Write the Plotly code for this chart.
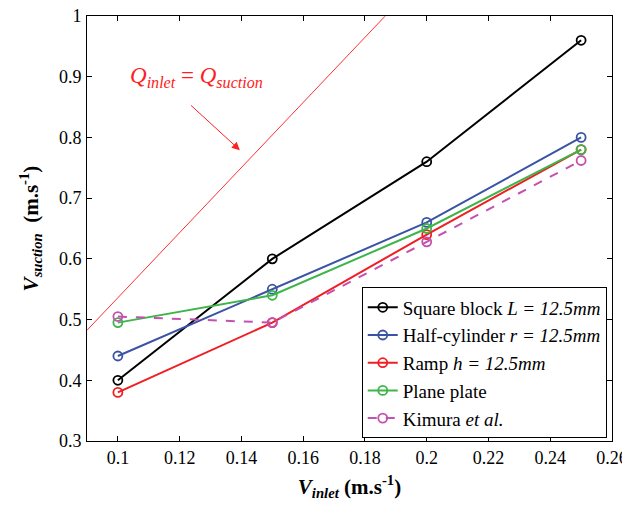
import plotly.graph_objects as go

v_inlet = [0.10, 0.15, 0.20, 0.25]
square_block = [0.400, 0.600, 0.760, 0.960]
half_cylinder = [0.440, 0.550, 0.660, 0.800]
ramp = [0.380, 0.495, 0.640, 0.780]
plane_plate = [0.495, 0.540, 0.650, 0.780]
kimura = [0.505, 0.495, 0.628, 0.762]

q_line_x = [0.09, 0.1865]
q_slope = 5.36
q_line_y = [q_slope * x for x in q_line_x]

x_ticks = [0.1, 0.12, 0.14, 0.16, 0.18, 0.2, 0.22, 0.24, 0.26]
y_ticks = [0.3, 0.4, 0.5, 0.6, 0.7, 0.8, 0.9, 1.0]

FONT = '"Liberation Serif", "Times New Roman", Times, serif'

series = [
    ("Square block <i>L = 12.5mm</i>", square_block, "#000000", "solid"),
    ("Half-cylinder <i>r = 12.5mm</i>", half_cylinder, "#3A53A4", "solid"),
    ("Ramp <i>h = 12.5mm</i>", ramp, "#F01E23", "solid"),
    ("Plane plate", plane_plate, "#3DB54A", "solid"),
    ("Kimura <i>et al.</i>", kimura, "#C451B0", "dash"),
]

fig = go.Figure()
fig.add_trace(go.Scatter(x=q_line_x, y=q_line_y, mode="lines",
                         line=dict(color="#FF3030", width=1), showlegend=False,
                         hoverinfo="skip", cliponaxis=True))
for name, ys, col, dash in series:
    fig.add_trace(go.Scatter(
        x=v_inlet, y=ys, mode="lines+markers", name=name,
        line=dict(color=col, width=2, dash=dash),
        marker=dict(symbol="circle-open", size=9, color=col, line=dict(width=1.8, color=col)),
    ))

fig.add_annotation(x=0.1256, y=0.899, xref="x", yref="y",
                   text="<i>Q</i><sub><i>inlet</i></sub> = <i>Q</i><sub><i>suction</i></sub>",
                   showarrow=False, font=dict(family=FONT, size=23, color="#FF2020"))
fig.add_annotation(x=0.1395, y=0.779, ax=0.1232, ay=0.855, xref="x", yref="y",
                   axref="x", ayref="y", text="", showarrow=True,
                   arrowhead=2, arrowsize=1.6, arrowwidth=1, arrowcolor="#FF2020")

axis_common = dict(showgrid=False, zeroline=False, showline=True, linecolor="black",
                   linewidth=1, mirror="allticks", ticks="inside", ticklen=5,
                   tickcolor="black", automargin=False, ticklabeloverflow="allow",
                   tickfont=dict(family=FONT, size=18, color="black"))

fig.update_xaxes(range=[0.09, 0.26], tickvals=x_ticks,
                 ticktext=[f"{t:g}" for t in x_ticks],
                 title=dict(text="<b><i>V</i></b><sub><b><i>inlet</i></b></sub><b> (m.s<sup>-1</sup>)</b>",
                            font=dict(family=FONT, size=21, color="black"), standoff=12),
                 **axis_common)
fig.update_yaxes(range=[0.3, 1.0], tickvals=y_ticks,
                 ticktext=[f"{t:g}" for t in y_ticks], ticklabelstandoff=1,
                 title=dict(text="<b><i>V</i></b><sub><b><i>suction</i></b></sub><b>  (m.s<sup>-1</sup>)</b>",
                            font=dict(family=FONT, size=21, color="black"), standoff=14),
                 **axis_common)

fig.update_layout(
    width=630, height=508,
    margin=dict(l=79, r=26, t=8, b=75),
    plot_bgcolor="white", paper_bgcolor="white",
    font=dict(family=FONT, color="black"),
    legend=dict(x=0.99, y=0.006, xanchor="right", yanchor="bottom",
                bgcolor="white", bordercolor="black", borderwidth=1,
                font=dict(family=FONT, size=19, color="black"),
                tracegroupgap=0, itemwidth=30),
)

fig.write_html("out.html")
